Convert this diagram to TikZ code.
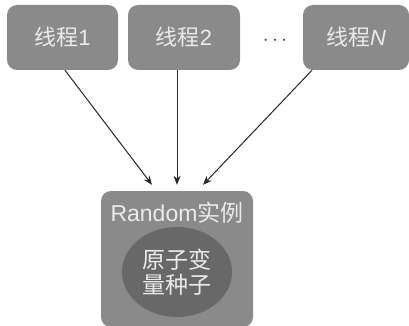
\documentclass[tikz,border=0pt]{standalone}
\usepackage{fontspec}
\setmainfont{Liberation Sans}
\newfontfamily\cjk{Noto Sans CJK SC}
\usetikzlibrary{shapes.geometric,arrows.meta}
\definecolor{boxgray}{HTML}{8A8A8A}
\definecolor{seedgray}{HTML}{686868}
\definecolor{txtgray}{HTML}{EBEBEB}
\begin{document}
\begin{tikzpicture}[x=1pt, y=-1pt]
		\tikzstyle{threadbox} = [rectangle, rounded corners=10pt, minimum height=65pt, fill=boxgray, text=txtgray, font=\fontsize{22}{24}\selectfont, inner sep=0pt]
		\tikzstyle{arrow} = [-{Stealth[length=9pt,width=7pt]}, draw=black!85, line width=1pt]
		\useasboundingbox (0,0) rectangle (409,326);
		\node[threadbox, minimum width=111pt] (t1) at (62.5,37.5) {{\cjk 线程}1};
		\node[threadbox, minimum width=112pt] (t2) at (184,37.5) {{\cjk 线程}2};
		\node[threadbox, minimum width=106pt] (tN) at (356,37.5) {{\cjk 线程}\textit{N}};
		\node[font=\fontsize{22}{24}\selectfont, text=black!75] (dots) at (275,41) {$\cdots$};
		\node[rectangle, rounded corners=10pt, fill=boxgray, minimum width=152pt, minimum height=136pt, inner sep=0pt] (rnd) at (177,259) {};
		\node[text=txtgray, font=\fontsize{23}{26}\selectfont, inner sep=0pt] (rndlabel) at (177,213) {Random{\cjk 实例}};
		\node[ellipse, fill=seedgray, minimum width=110pt, minimum height=90pt, inner sep=0pt, text=txtgray, align=center, font=\cjk\fontsize{23}{25}\selectfont] (seed) at (177,272) {原子变\\量种子};
		\foreach \src/\dx/\ex in {t1/2.5/-25, t2/-7/0, tN/-44/26}
		{
			\draw[arrow] ([xshift=\dx pt]\src.south) -- ([xshift=\ex pt, yshift=6pt]rnd.north);
		}
\end{tikzpicture}
\end{document}
